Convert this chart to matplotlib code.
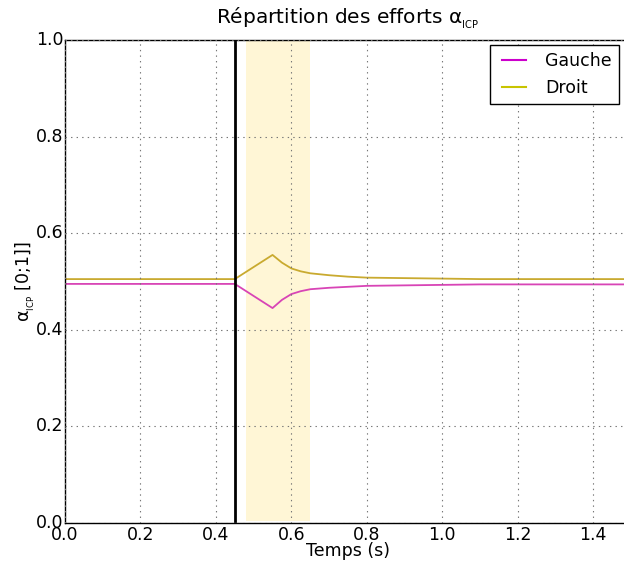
import matplotlib
matplotlib.use("Agg")
import matplotlib.pyplot as plt
from matplotlib.lines import Line2D

# Values
temps = [0.0, 0.45, 0.47, 0.50, 0.53, 0.55, 0.575, 0.60, 0.625, 0.65, 0.70, 0.75, 0.80, 0.90, 1.0, 1.1, 1.5]
droit = [0.505, 0.505, 0.515, 0.530, 0.545, 0.555, 0.539, 0.527, 0.521, 0.517, 0.513, 0.510, 0.508, 0.507, 0.506, 0.505, 0.505]
gauche = [0.495, 0.495, 0.485, 0.470, 0.455, 0.445, 0.462, 0.474, 0.480, 0.484, 0.487, 0.489, 0.491, 0.492, 0.493, 0.494, 0.494]
t_event = 0.45
span_start, span_end = 0.48, 0.65


def plot_repartition():
    plt.style.use("classic")
    fig = plt.figure(figsize=(6.24, 5.62), dpi=100, facecolor="white")
    ax = fig.add_axes([65 / 624, 39 / 562, 566 / 624, 483 / 562])
    ax.set_facecolor("white")

    ax.axvspan(span_start, span_end, ymin=0.005, ymax=1, color="#fff6d6", lw=0, zorder=0)
    ax.axvline(t_event, ymin=0.005, ymax=1, color="black", lw=2, zorder=3)

    ax.plot(temps, gauche, color="#d844b6", lw=1.3, zorder=2)
    ax.plot(temps, droit, color="#c9aa2f", lw=1.3, zorder=2)

    ax.set_xlim(0, 1.5)
    ax.set_ylim(0, 1.0)
    ax.set_xticks([0.0, 0.2, 0.4, 0.6, 0.8, 1.0, 1.2, 1.4])
    ax.set_yticks([0.0, 0.2, 0.4, 0.6, 0.8, 1.0])
    ax.tick_params(labelsize=12.5, length=0)
    ax.tick_params(axis="y", pad=1)
    ax.tick_params(axis="x", pad=2)
    ax.grid(True, linestyle=":", color="#777777", lw=0.8)

    ax.set_title(r"Répartition des efforts $\mathregular{\alpha_{_{ICP}}}$", fontsize=14.5, pad=12)
    ax.set_xlabel("Temps (s)", fontsize=12.5, labelpad=-1)
    ax.set_ylabel(r"$\mathregular{\alpha_{_{ICP}}}$ [0;1]]", fontsize=12.5, labelpad=-1)

    handles = [Line2D([], [], color="#cc00cc", lw=1.5),
               Line2D([], [], color="#c8c400", lw=1.5)]
    leg = ax.legend(handles, ["Gauche", "Droit"], loc="upper right",
                    bbox_to_anchor=(619 / 624, 1 - 45 / 562), bbox_transform=fig.transFigure,
                    borderaxespad=0, fontsize=12.5, handlelength=2.0, frameon=True, fancybox=False)
    leg.get_frame().set_edgecolor("black")

    fig.savefig("out.png", dpi=100, facecolor="white")


if __name__ == "__main__":
    plot_repartition()
